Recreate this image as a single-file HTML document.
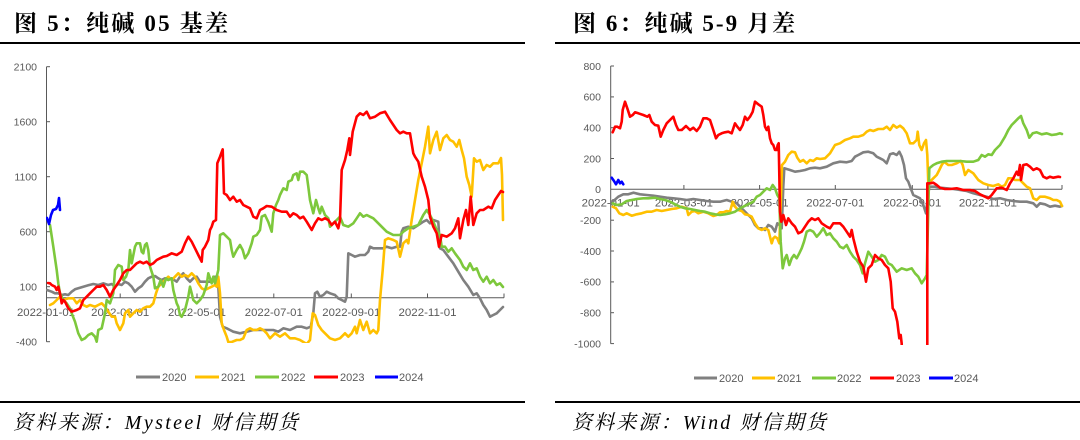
<!DOCTYPE html>
<html>
<head>
<meta charset="utf-8">
<style>
  html, body { margin: 0; padding: 0; background: #ffffff; }
  svg { display: block; }
  .ttl { font-family: "Liberation Serif", "Noto Serif CJK SC", serif; font-weight: bold; font-size: 23px; fill: #000; }
  .src { font-family: "Liberation Serif", "Noto Serif CJK SC", serif; font-style: italic; font-size: 20px; fill: #000; }
  .yl { font-family: "Liberation Sans", sans-serif; font-size: 10.5px; fill: #595959; }
  .xl { font-family: "Liberation Sans", sans-serif; font-size: 11px; fill: #595959; }
  .lg { font-family: "Liberation Sans", sans-serif; font-size: 11px; fill: #595959; }
  .ln { fill: none; stroke-width: 2.6; stroke-linejoin: round; stroke-linecap: round; }
</style>
</head>
<body>
<svg width="1080" height="440" viewBox="0 0 1080 440" xmlns="http://www.w3.org/2000/svg">
  <defs>
    <clipPath id="cl"><rect x="46" y="65" width="460" height="278"/></clipPath>
    <clipPath id="cr"><rect x="610" y="64" width="454" height="281"/></clipPath>
  </defs>

  <!-- Titles -->
  <text class="ttl" x="14" y="31" textLength="214" lengthAdjust="spacing">图 5：纯碱 05 基差</text>
  <text class="ttl" x="573" y="31" textLength="222" lengthAdjust="spacing">图 6：纯碱 5-9 月差</text>
  <rect x="0" y="42" width="525" height="2" fill="#000"/>
  <rect x="555" y="42" width="525" height="2" fill="#000"/>

  <!-- Bottom rules & sources -->
  <rect x="0" y="401" width="525" height="2" fill="#000"/>
  <rect x="555" y="401" width="525" height="2" fill="#000"/>
  <text class="src" x="13" y="429" textLength="285" lengthAdjust="spacing">资料来源：Mysteel  财信期货</text>
  <text class="src" x="572" y="429" textLength="254" lengthAdjust="spacing">资料来源：Wind 财信期货</text>

  <!-- ================= LEFT CHART ================= -->
  <g stroke="#595959" stroke-width="1" fill="none">
    <line x1="46.5" y1="66.7" x2="46.5" y2="341.7"/>
    <line x1="46" y1="297.7" x2="504" y2="297.7"/>
    <line x1="46.5" y1="66.7" x2="50" y2="66.7"/>
    <line x1="46.5" y1="121.7" x2="50" y2="121.7"/>
    <line x1="46.5" y1="176.7" x2="50" y2="176.7"/>
    <line x1="46.5" y1="231.7" x2="50" y2="231.7"/>
    <line x1="46.5" y1="286.7" x2="50" y2="286.7"/>
    <line x1="46.5" y1="341.7" x2="50" y2="341.7"/>
    <line x1="120.2" y1="293.5" x2="120.2" y2="297.7"/>
    <line x1="197" y1="293.5" x2="197" y2="297.7"/>
    <line x1="273.8" y1="293.5" x2="273.8" y2="297.7"/>
    <line x1="351.3" y1="293.5" x2="351.3" y2="297.7"/>
    <line x1="427.5" y1="293.5" x2="427.5" y2="297.7"/>
    <line x1="504" y1="293.5" x2="504" y2="297.7"/>
  </g>
  <g class="yl" text-anchor="end">
    <text x="37" y="70.5">2100</text>
    <text x="37" y="125.5">1600</text>
    <text x="37" y="180.5">1100</text>
    <text x="37" y="235.5">600</text>
    <text x="37" y="290.5">100</text>
    <text x="37" y="345.5">-400</text>
  </g>
  <g class="xl">
    <text x="17" y="316" textLength="58" lengthAdjust="spacingAndGlyphs">2022-01-01</text>
    <text x="91.2" y="316" textLength="58" lengthAdjust="spacingAndGlyphs">2022-03-01</text>
    <text x="168" y="316" textLength="58" lengthAdjust="spacingAndGlyphs">2022-05-01</text>
    <text x="244.8" y="316" textLength="58" lengthAdjust="spacingAndGlyphs">2022-07-01</text>
    <text x="322.3" y="316" textLength="58" lengthAdjust="spacingAndGlyphs">2022-09-01</text>
    <text x="398.5" y="316" textLength="58" lengthAdjust="spacingAndGlyphs">2022-11-01</text>
  </g>

  <g clip-path="url(#cl)">
    <polyline class="ln" stroke="#808080" points="47,290 51.7,291.7 55,293.3 58.3,293.3 61.7,295 65,294.3 68.3,295 71.7,291.7 75,289.3 78.3,288.3 83.3,286.7 88.3,285.3 93.3,284 98.3,285 103.3,283.3 108.3,285 111.7,284 115,286.7 118.3,284 121.7,285 125,281.7 128.3,283.3 131.7,286.7 135,291.7 138.3,288.3 141.7,286 145,281.7 148.3,278.3 151.7,276.7 155,276 158.3,278.3 161.7,280 165,278.3 168.3,280 171.7,278.3 176.7,281.7 180,276.7 183.3,273.3 186.7,278.3 190,281.7 193.3,278.3 196.7,276.7 200,281.7 203.3,281.7 206.7,281.7 210,281.7 213.3,280 215,276.7 216.7,283.3 218.3,286.7 220,316.7 222.7,326.7 226.7,328.3 230,330 233.3,331.7 240,333.3 246.7,331.7 253.3,330 260,330 266.7,330 273.3,330 278.3,331.7 283.3,328.3 290,330 296.7,326.7 301.7,326.7 306.7,328.3 310.7,326.7 313.3,313.3 315,293.3 317.3,291.7 320,296.7 323.3,295 326.7,291.7 330,293.3 335,295 338.3,298.3 341.7,300 345,301.7 346.7,296.7 348.3,253.3 351.7,255 355,256.7 360,255 365,255 368.3,251.7 370,246.7 373.3,248.3 378.3,248.3 383.3,248.3 386.7,246.7 391.7,248.3 396.7,246.7 400,246.7 401.7,231.7 403.3,228.3 408.3,226.7 413.3,228.3 418.3,225 423.3,221.7 426.7,220 430,223.3 433.3,220 438.3,221.7 440,248.3 443.3,250 448.3,256.7 453.3,263.3 458.3,271.7 463.3,280 468.3,286.7 473.3,295 476.7,293.3 480,298.3 483.3,305 486.7,310 490,316.7 493.3,315 496.7,313.3 500,310 503,307"/>
    <polyline class="ln" stroke="#FFC000" points="50,305 53.3,303.3 56.7,300 60,296.7 63.3,300 68.3,298.3 73.3,298.3 76.7,303.3 80,300 83.3,305 86.7,306.7 90,305 95,306.7 98.3,305 101.7,303.3 105,306.7 108.3,311.7 111.7,316.7 115,316.7 116.7,323.3 120,330 123.3,323.3 125,313.3 128.3,310 130,316.7 133.3,313.3 136.7,310 140,311.7 143.3,308.3 146.7,306.7 150,306.7 153.3,303.3 156,293.3 158.3,286.7 161.7,283.3 165,280 168.3,276.7 171.7,280 175,276.7 178.3,273.3 181.7,276.7 185,275 188.3,276.7 191.7,273.3 195,276.7 198.3,283.3 201.7,288.3 205,290 208.3,288.3 211.7,286.7 215,285 216.7,286.7 218.3,276.7 220,293.3 221.7,323.3 224,330 226.7,336.7 228.3,342 231.7,342 236.7,340 240,340 243.3,338.3 246.7,330 250,328.3 253.3,330 256.7,330 260,328.3 263.3,330 266.7,333.3 270,338.3 275,333.3 280,336.7 285,333.3 290,338.3 295,338.3 300,340 306.7,344 310,340 312.7,313.3 315,315 318.3,325 321.7,330 325,333.3 330,338.3 335,340 340,338.3 345,333.3 348.3,336.7 351.7,333.3 355,326.7 356.7,333.3 360,320 363.3,330 366.7,321.7 370,333.3 373.3,330 376.7,333.3 378.3,330 380,300 382.7,270 385,240 388.3,238.3 393.3,240 396.7,241.7 400,256.7 403.3,243.3 406.7,240 408.3,243.3 411.7,220 415,200 418.3,180 421.7,163.3 425,146.7 428.3,126.7 430,153.3 433.3,140 436.7,131.7 440,150 443.3,138.3 446.7,135 450,140 453.3,141.7 456.7,146.7 459.3,140 461.7,150 464,158.3 466.7,176.7 469.3,185 471.7,196.7 474,158.3 476.7,161.7 480,160 483.3,170 486.7,165 490,166.7 493.3,163.3 498.3,163.3 501,158 502,175 503,220"/>
    <polyline class="ln" stroke="#7DC83C" points="50,225 53.3,246.7 56.7,270 58.3,283.3 60,293.3 63.3,300 66.7,303.3 70,308.3 71.7,313.3 75,321.7 78.3,333.3 81.7,340 85,338.3 88.3,335 91.7,333.3 95,336.7 96.7,341.7 98.3,330 101.7,328.3 105,313.3 106.7,300 110,303.3 113.3,293.3 115,270 118.3,265 121.7,266.7 123.3,280 126,276.7 128.3,270 130,250 131.7,263.3 135,246.7 136.7,243.3 140,243.3 141.7,251.7 143.3,253.3 145,245 146.7,243.3 148.3,250 150,266.7 153.3,276.7 155,288.3 158.3,286.7 160.7,280 163.3,286.7 166,278.3 168.3,280 171.7,278.3 173.3,290 175,296.7 176.7,303.3 178.3,306.7 180,315 181.7,316.7 185,310 186.7,303.3 188.3,296.7 190,286.7 191.7,293.3 193.3,300 196.7,303.3 200,300 203.3,295 205,290 206.7,285 208.3,273.3 211.7,283.3 213.3,276.7 215,283.3 216.7,276.7 218.3,270 220,235 223.3,233.3 226.7,236.7 230,240 231.7,250 233.3,256.7 236.7,250 240,245 242.7,250 245,258.3 248.3,253.3 251.7,243.3 253.3,236.7 256.7,235 260,230 261.7,216.7 265,215 268.3,222 271.7,231.7 273.3,213.3 276,205 278.3,200 280,195 283.3,188.3 286.7,190 288.3,181.7 291.7,180 293.3,175 296.7,173.3 298.3,180 300,171.7 303.3,171.7 306.7,175 308.3,186.7 310,200 313.3,213.3 316,200 318.3,208.3 320,213.3 321.7,206.7 325,215 328.3,218.3 330,226.7 333.3,223.3 336.7,220 340,216.7 343.3,225 348.3,226.7 353.3,223.3 356.7,218.3 360,213.3 363.3,216.7 366.7,215 370,216.7 373.3,218.3 378.3,223.3 383.3,228.3 386.7,231.7 393.3,235 400,235 403.3,231.7 408.3,228.3 413.3,226.7 418.3,225 423.3,215 426.7,210 430,215 433.3,221.7 436.7,230 440,235 441.7,246.7 445,246.7 448.3,251.7 451.7,248.3 455,253.3 460,260 463.3,266.7 466.7,270 470,263.3 473.3,270 476.7,268.3 480,276.7 483.3,281.7 486.7,276.7 490,283.3 493.3,280 496.7,285 500,283.3 503,287"/>
    <polyline class="ln" stroke="#FF0000" points="48,283 50,283.3 51.7,285 55,286.7 56.7,290 58.3,286.7 60,293.3 61.7,303.3 63.3,300 65,301.7 68.3,308.3 71.7,311.7 76.7,310 80,308.3 83.3,300 86.7,296.7 90,293.3 93.3,290 96.7,286.7 100,286.7 103.3,285 106.7,290 110,296.7 113.3,290 116.7,285 120,280 123.3,273.3 126.7,270 130,270 133.3,266.7 136.7,263.3 140,261.7 143.3,263.3 146.7,261.7 150,265 153.3,263.3 156.7,260 160,258.3 163.3,256.7 166.7,256 171.7,253.3 176.7,255 181.7,251.7 185,243.3 188.3,236.7 191.7,241.7 195,248.3 198.3,255 201.7,261.7 202.7,250 205,246.7 208.3,240 210,230 211.7,226.7 213.3,221.7 216,220 217.3,163.3 220,156.7 222.7,149.3 224,193.3 226.7,195 230,200 233.3,196.7 236.7,201.7 240,200 243.3,205 246.7,206.7 250,208.3 253.3,216.7 256.7,218.3 260,210 263.3,208.3 266.7,206 271.7,206.7 276.7,210 281.7,211.7 286.7,211.7 290,216.7 293.3,213.3 296.7,215 300,218.3 303.3,216.7 306.7,221.7 311.7,230 315,223.3 318.3,218.3 321.7,220 325,218.3 328.3,220 331.7,225 335,221.7 338.3,228.3 340,220 341.7,170 345,160 347.3,150 349.3,138.3 350,155 352.7,131.7 356.7,116.7 360,113.3 363.3,115 366.7,111.7 370,118.3 375,116.7 380,113.3 385,111.7 390,120 396.7,130 400,133.3 403.3,131.7 406.7,133.3 410,133.3 413.3,153.3 415,156.7 418.3,161.7 421.7,176.7 425,186.7 428.3,200 430,216.7 433.3,226.7 436.7,233.3 439,246.7 441.7,235 446.7,236.7 451.7,233.3 455,228.3 458.3,218.3 460,238.3 463.3,220 466,210 468.3,225 470.7,196.7 473.3,225 476.7,213.3 480,210 483.3,210 488.3,206.7 491.7,208.3 495,200 498.3,195 501,191 503,192"/>
    <polyline class="ln" stroke="#0000FF" points="47,218 49,224 51,215 53,210 56,209 58,205 59,198 60,210"/>
  </g>

  <!-- left legend -->
  <g stroke-width="3">
    <line x1="136" y1="377" x2="160" y2="377" stroke="#808080"/>
    <line x1="195" y1="377" x2="219" y2="377" stroke="#FFC000"/>
    <line x1="255" y1="377" x2="279" y2="377" stroke="#7DC83C"/>
    <line x1="314" y1="377" x2="338" y2="377" stroke="#FF0000"/>
    <line x1="375" y1="377" x2="398" y2="377" stroke="#0000FF"/>
  </g>
  <g class="lg">
    <text x="162" y="381">2020</text>
    <text x="221" y="381">2021</text>
    <text x="281" y="381">2022</text>
    <text x="340" y="381">2023</text>
    <text x="399" y="381">2024</text>
  </g>

  <!-- ================= RIGHT CHART ================= -->
  <g stroke="#595959" stroke-width="1" fill="none">
    <line x1="610.7" y1="66" x2="610.7" y2="343.7"/>
    <line x1="610.7" y1="189.3" x2="1062" y2="189.3"/>
    <line x1="610.7" y1="66" x2="614" y2="66"/>
    <line x1="610.7" y1="96.9" x2="614" y2="96.9"/>
    <line x1="610.7" y1="127.7" x2="614" y2="127.7"/>
    <line x1="610.7" y1="158.5" x2="614" y2="158.5"/>
    <line x1="610.7" y1="220.2" x2="614" y2="220.2"/>
    <line x1="610.7" y1="251" x2="614" y2="251"/>
    <line x1="610.7" y1="281.9" x2="614" y2="281.9"/>
    <line x1="610.7" y1="312.7" x2="614" y2="312.7"/>
    <line x1="610.7" y1="343.6" x2="614" y2="343.6"/>
    <line x1="683.9" y1="185" x2="683.9" y2="189.3"/>
    <line x1="759.6" y1="185" x2="759.6" y2="189.3"/>
    <line x1="835.3" y1="185" x2="835.3" y2="189.3"/>
    <line x1="912.3" y1="185" x2="912.3" y2="189.3"/>
    <line x1="987.9" y1="185" x2="987.9" y2="189.3"/>
    <line x1="1062" y1="185" x2="1062" y2="189.3"/>
  </g>
  <g class="yl" text-anchor="end">
    <text x="601" y="69.8">800</text>
    <text x="601" y="100.7">600</text>
    <text x="601" y="131.5">400</text>
    <text x="601" y="162.3">200</text>
    <text x="601" y="193.1">0</text>
    <text x="601" y="224">-200</text>
    <text x="601" y="254.8">-400</text>
    <text x="601" y="285.7">-600</text>
    <text x="601" y="316.5">-800</text>
    <text x="601" y="347.4">-1000</text>
  </g>
  <g class="xl">
    <text x="581.7" y="206.5" textLength="58" lengthAdjust="spacingAndGlyphs">2022-01-01</text>
    <text x="654.9" y="206.5" textLength="58" lengthAdjust="spacingAndGlyphs">2022-03-01</text>
    <text x="730.6" y="206.5" textLength="58" lengthAdjust="spacingAndGlyphs">2022-05-01</text>
    <text x="806.3" y="206.5" textLength="58" lengthAdjust="spacingAndGlyphs">2022-07-01</text>
    <text x="883.3" y="206.5" textLength="58" lengthAdjust="spacingAndGlyphs">2022-09-01</text>
    <text x="958.9" y="206.5" textLength="58" lengthAdjust="spacingAndGlyphs">2022-11-01</text>
  </g>

  <g clip-path="url(#cr)">
    <polyline class="ln" stroke="#808080" points="612.7,201.7 618.3,196.7 623.3,194.3 628.3,194.3 633.3,192.7 640,194.3 646.7,195 653.3,195.7 660,196.7 666.7,197.7 673.3,198.3 680,199 686.7,200 693.3,199 700,200 706.7,201 713.3,201.7 720,201.7 726.7,200 731.7,201.7 736.7,203.3 741.7,208.3 745,211.7 748.3,215 751.7,218.3 755,225 758.3,228.3 761.7,228.3 765,230 768.3,225 771.7,226.7 775,231.7 777.3,223.3 779.3,225 781.7,228.3 783.3,186.7 784.3,168.3 786.7,169 790,170 795,171.7 800,171 805,170 810,168.3 815,167.7 820,168.3 826.7,166.7 833.3,163.3 840,161.7 846.7,162.3 851.7,161 855,156.7 858.3,155 863.3,152.3 868.3,151.7 873.3,153.3 876.7,156.7 880,158.3 883.3,160 886.7,163.3 890,154.3 893.3,153.3 896.7,155 899.3,151.7 901.7,156.7 904,165 906,178.3 908.3,181.7 910.7,188.3 913.3,195 916.7,196.7 920,198.3 923.3,205 926,213.3 927.3,201.7 929.3,186.7 931.7,186.7 935,186.7 940,187.7 946.7,188.3 953.3,189 960,190 966.7,191 973.3,193.3 980,195 986.7,196.7 993.3,199 1000,198.3 1006.7,200 1013.3,201 1020,201.7 1026.7,201.7 1033.3,203.3 1036.7,206.7 1040,203.3 1045,204.3 1050,206.7 1055,205.7 1060,206.7 1062,206"/>
    <polyline class="ln" stroke="#FFC000" points="612.7,206.7 616,208.3 619.3,213.3 623.3,215 626.7,213.3 631.7,215.7 636.7,214.3 641.7,213.3 646.7,211.7 651.7,211.7 656.7,210 661.7,211 666.7,210 671.7,209 676.7,208.3 681.7,206.7 686.7,208.3 688.3,215 691.7,211.7 695,211 698.3,213.3 703.3,211.7 708.3,213.3 713.3,216 716.7,215 720,212.3 723.3,212.3 726.7,211 730,211.7 732.7,201.7 735,206.7 738.3,210 741.7,211 745,214.3 748.3,215 751.7,216.7 755,223.3 758.3,228.3 761.7,230 765,228.3 768.3,230 770,236.7 771.7,243.3 773.3,238.3 775,236.7 777.3,238.3 779.3,243.3 780.7,205 782,165 785,161.7 788.3,155 791.7,151.7 795,152.3 797.3,157.7 800,161.7 803.3,160 806.7,163.3 810,160 813.3,161 816.7,158.3 820,159 825,158.3 830,153.3 835,145 840,143.3 845,140 850,138.3 853.3,136.7 858.3,136.7 863.3,135 866.7,131.7 870,130 873.3,131 878.3,129 883.3,129 886.7,126.7 890,130 893.3,125 896.7,127.7 900,125.7 903.3,128.3 906.7,133.3 910,143.3 913.3,143.3 916.7,140 917.7,131.7 919.3,145 921.7,150 924,143.3 926,140 927.3,155 928.3,183.3 930,181.7 933.3,178.3 936.7,175 939.3,170 941.7,165 944,161.7 948.3,165 951.7,165 956.7,163.3 960.7,161 962.7,165 965,175 968.3,170 973.3,173.3 978.3,180 983.3,183.3 988.3,185 993.3,186 998.3,184.3 1001.7,186.7 1005,185 1008.3,178.3 1011.7,178.3 1015,180 1020,180 1023.3,183.3 1026.7,186.7 1030,188.3 1033.3,198.3 1036.7,200 1040,196.7 1045,196.7 1050,198.3 1053.3,200 1056.7,200 1060,201.7 1062,206"/>
    <polyline class="ln" stroke="#7DC83C" points="612.7,203.3 616.7,205 621.7,204.3 626.7,201 631.7,200 636.7,199 643.3,198.3 648.3,198.3 655,197.7 660,199 665,200 670,201.7 675,204.3 680,206.7 685,208.3 690,209 695,210 700,211 705,211.7 710,213.3 715,214.3 720,215 725,214.3 730,213.3 735,211.7 740,208.3 743.3,206.7 746.7,205 750,203.3 753.3,201.7 756.7,196.7 760,195 763.3,191.7 766.7,188.3 770,190 772.7,185 775,188.3 777.3,195 779.3,198.3 780.7,241.7 782.7,268.3 785,258.3 786.7,255 789.3,265 791.7,258.3 794,255 796.7,258.3 799.3,253.3 801.7,248.3 804,241.7 806.7,231.7 810,230 813.3,231.7 816.7,236.7 820,233 823.3,228.3 826.7,235 830,233.3 833.3,238.3 836.7,241.7 840,246.7 843.3,248.3 846.7,245 850,251.7 853.3,256.7 856.7,260 860,265 862.7,273.3 865,263.3 868.3,251.7 871.7,256.7 875,261.7 878.3,260 881.7,255 885,256.7 888.3,263.3 891.7,265 896.7,271.7 901.7,268.3 906.7,270 911.7,268.3 915,273.3 918.3,276.7 921.7,283.3 925,278.3 926.7,275 929.3,168.3 933.3,165 936.7,163.3 941.7,161.7 946.7,161 953.3,161 960,161 966.7,161.7 973.3,161.7 978.3,160 981.7,155 985,156.7 988.3,154.3 991.7,155 995,150 1000,145 1005,136.7 1008.3,130 1011.7,125 1015,121.7 1018.3,118.3 1021,116 1023.3,123.3 1026.7,130 1029.3,137.7 1032.7,133.3 1036.7,132.3 1041.7,134.3 1046.7,133.3 1051.7,135 1056.7,134.3 1060,133.3 1062,134"/>
    <polyline class="ln" stroke="#FF0000" points="612.7,132.3 615,126.7 617.3,126.7 620,128.3 621.7,121.7 622.7,110 625,101.7 627.3,108.3 630,116.7 632.7,115 635,112.3 638.3,113.3 643.3,115 647.3,116.7 649.3,115 651.7,121.7 655,125 658.3,125.7 660.7,136.7 663.3,130 666.7,123.3 670,120 673.3,116.7 676,125 678.3,130 681.7,130 686,126 690,130 693.3,127.7 696.7,131 700,126.7 703.3,118.3 706.7,118.3 710,120 713.3,130 716,138.3 718.3,135 721.7,133.3 725,132.3 728.3,131.7 731.7,133.3 735,123.3 737.3,126.7 740,130 742.7,125 745,116.7 747.3,120 750,116.7 752.7,111.7 755,101.7 758.3,104.3 761.7,106.7 763.3,115 765,126.7 766.7,130 768.3,126.7 770,138.3 771.7,143.3 773.3,145 775,150 776.7,150 777.7,145 778.7,143.3 780,211.7 781.3,221.7 783.3,215 786,225 788.3,218.3 791.7,223.3 795,226.7 798.3,233.3 801.7,231.7 805,226.7 808.3,221.7 811.7,218.3 815,220 818.3,218.3 821.7,223.3 826.7,226.7 830,228.3 833.3,223.3 840,223.3 843.3,226.7 846.7,231.7 850,236.7 851.7,230 853.3,238.3 856.7,251.7 860,261.7 863.3,266.7 866,281.7 868.3,268.3 871.7,265 875,255 878.3,258.3 881.7,260 885,265 888.3,268.3 890.7,281.7 892.7,308.3 895,311.7 897.3,321.7 899.3,338.3 900.7,335 901.7,343.7 903,420 927.3,420 927.3,183.3 930,183.3 933.3,182.7 936.7,185 940,187.7 945,189 950,189 956.7,188.3 963.3,190 970,190 975,191 980,194.3 985,196.7 988.3,198.3 991.7,195 996.7,188.3 1001.7,187.7 1006.7,190 1010,183.3 1013.3,178.3 1016.7,171.7 1018.3,175 1020,165 1021,180 1023.3,165 1026.7,164.3 1030,166.7 1033.3,170 1036.7,168.3 1040,170 1043.3,176.7 1046.7,178.3 1050,176.7 1053.3,177.7 1058.3,176.7 1060,177"/>
    <polyline class="ln" stroke="#0000FF" points="611.7,177.7 614,181 616,184.3 618.3,180 620,183.3 621.7,181.7 623.3,184.3"/>
  </g>

  <!-- right legend -->
  <g stroke-width="3">
    <line x1="694" y1="378" x2="717" y2="378" stroke="#808080"/>
    <line x1="752" y1="378" x2="775" y2="378" stroke="#FFC000"/>
    <line x1="812" y1="378" x2="836" y2="378" stroke="#7DC83C"/>
    <line x1="870" y1="378" x2="894" y2="378" stroke="#FF0000"/>
    <line x1="929" y1="378" x2="953" y2="378" stroke="#0000FF"/>
  </g>
  <g class="lg">
    <text x="719" y="382">2020</text>
    <text x="777" y="382">2021</text>
    <text x="837" y="382">2022</text>
    <text x="896" y="382">2023</text>
    <text x="954" y="382">2024</text>
  </g>
</svg>
</body>
</html>
